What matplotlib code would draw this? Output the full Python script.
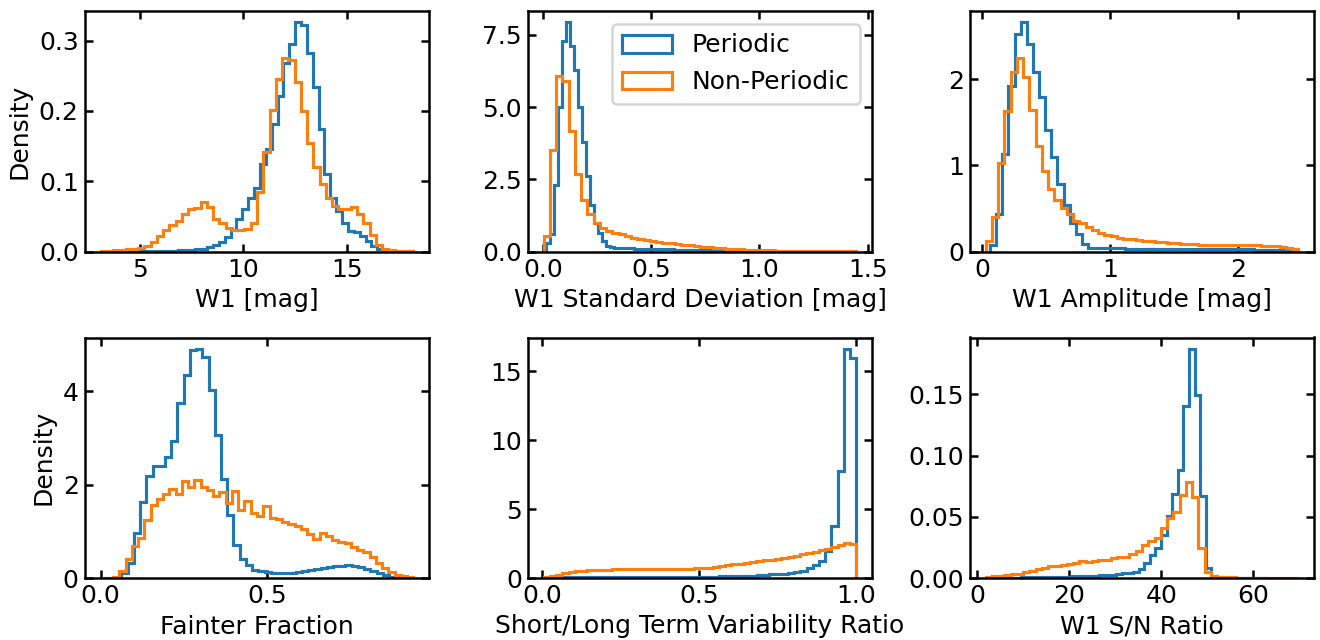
import numpy as np
import matplotlib
matplotlib.use("Agg")
import matplotlib.pyplot as plt
from matplotlib.ticker import MultipleLocator

# ---------------- data (density per bin), bin ranges ----------------
# Panel 1: W1 [mag]
w1_per_range = [3.99, 18.19]
w1_per = [0.0003, 0.0004, 0.0005, 0.0005, 0.0006, 0.0007,
          0.0008, 0.0009, 0.001, 0.0012, 0.0015,
          0.002, 0.0025, 0.003, 0.004, 0.006, 0.009, 0.014, 0.021, 0.030,
          0.046, 0.061, 0.076, 0.091, 0.125, 0.146, 0.182, 0.221, 0.268, 0.296,
          0.326, 0.322, 0.283, 0.234, 0.174, 0.110, 0.076, 0.058, 0.041, 0.029,
          0.028, 0.022, 0.015, 0.008, 0.003,
          0.002, 0.001, 0.001, 0.0005, 0.0005]
w1_non_range = [3.10, 18.23]
w1_non = [0.001, 0.001, 0.002, 0.002, 0.003, 0.004,
          0.005, 0.008, 0.013, 0.022, 0.030, 0.038, 0.044, 0.053, 0.060, 0.062,
          0.071, 0.064, 0.046, 0.040, 0.034,
          0.031, 0.030, 0.032, 0.041, 0.084, 0.141, 0.202, 0.246, 0.275, 0.272,
          0.241, 0.200, 0.155, 0.120, 0.096, 0.076, 0.065, 0.060, 0.060, 0.063,
          0.053, 0.041, 0.023, 0.009, 0.004, 0.002, 0.001, 0.001, 0.0005]

# Panel 2: W1 standard deviation [mag]
std_per_range = [0.014, 0.939]
std_per = [0.3, 0.6, 2.3, 5.0, 7.3, 7.93, 7.1, 6.3, 5.0, 3.8, 2.6, 1.6, 1.0, 0.65,
           0.37, 0.2, 0.15, 0.13,
           0.12, 0.12, 0.11, 0.11, 0.10, 0.10, 0.09, 0.09, 0.08, 0.08, 0.08, 0.07,
           0.07, 0.07, 0.06, 0.06, 0.06, 0.05, 0.05, 0.05, 0.04, 0.04, 0.04, 0.03,
           0.03, 0.03, 0.02, 0.02, 0.02, 0.01, 0.01, 0.01]
std_non_range = [0.003, 1.448]
std_non = [0.54, 3.5, 6.06, 5.9, 4.16, 2.69, 1.79, 1.30, 0.97, 0.83,
           0.72, 0.65, 0.59, 0.53, 0.47, 0.42, 0.39, 0.35, 0.32, 0.30,
           0.28, 0.26, 0.24, 0.22, 0.19, 0.17, 0.15, 0.13, 0.12, 0.10,
           0.09, 0.07, 0.06, 0.05, 0.045, 0.04, 0.035, 0.03, 0.025, 0.02,
           0.02, 0.015, 0.015, 0.01, 0.01, 0.01, 0.008, 0.006, 0.005, 0.004]

# Panel 3: W1 amplitude [mag]
amp_per_range = [0.06, 2.46]
amp_per = [0.08, 0.44, 1.13, 1.92, 2.53, 2.66, 2.41, 2.09, 1.79, 1.41, 1.10, 0.78,
           0.54, 0.33, 0.20, 0.085, 0.045,
           0.04, 0.04, 0.035, 0.035, 0.035, 0.03, 0.03, 0.03, 0.03, 0.03, 0.03,
           0.03, 0.03, 0.03, 0.03, 0.03, 0.03, 0.03, 0.028, 0.028, 0.026, 0.026,
           0.025, 0.025, 0.024, 0.024, 0.022, 0.022, 0.02, 0.02, 0.018, 0.015, 0.012]
amp_non_range = [0.025, 2.475]
amp_non = [0.12, 0.40, 1.03, 1.63, 2.09, 2.25, 2.03, 1.64, 1.23, 0.93, 0.73, 0.60,
           0.50, 0.43, 0.36, 0.33, 0.29, 0.25, 0.22, 0.19, 0.18, 0.16, 0.15, 0.14,
           0.13, 0.124, 0.117, 0.11, 0.105, 0.10, 0.095, 0.09, 0.087, 0.083, 0.08,
           0.078, 0.076, 0.075, 0.074, 0.074, 0.073, 0.073, 0.072, 0.07, 0.068,
           0.065, 0.06, 0.055, 0.045, 0.03]

# Panel 4: fainter fraction
fain_per_range = [0.0626, 0.923]
fain_per = [0.11, 0.32, 0.96, 1.62, 2.18, 2.41, 2.41, 2.59, 2.93, 3.75, 4.36, 4.89,
            4.91, 4.73, 4.04, 3.07, 2.13, 1.36, 0.70, 0.41, 0.27, 0.18, 0.14, 0.12,
            0.11, 0.10, 0.10, 0.11, 0.13, 0.15, 0.17, 0.19, 0.21, 0.23, 0.25, 0.26,
            0.27, 0.26, 0.24, 0.20, 0.15, 0.10, 0.06, 0.03, 0.015, 0.005]
fain_non_range = [0.0, 0.94]
fain_non = [0.01, 0.01, 0.03, 0.16, 0.41, 0.68, 0.86, 1.25, 1.56, 1.69, 1.81, 1.91,
            1.80, 2.09, 1.95, 2.10, 1.96, 1.88, 1.75, 1.84, 1.61, 1.86, 1.46, 1.64,
            1.39, 1.32, 1.54, 1.29, 1.26, 1.21, 1.16, 1.11, 1.05, 0.95, 0.84, 0.96,
            0.89, 0.81, 0.78, 0.74, 0.66, 0.61, 0.55, 0.46, 0.32, 0.21, 0.12, 0.07,
            0.04, 0.02]

# Panel 5: short/long term variability ratio
var_per_range = [0.01, 1.0]
var_per = [0.03, 0.04, 0.045, 0.05, 0.05, 0.055, 0.055, 0.06, 0.06, 0.06,
           0.06, 0.06, 0.06, 0.06, 0.06, 0.06, 0.06, 0.06, 0.06, 0.065,
           0.065, 0.07, 0.07, 0.075, 0.08,
           0.085, 0.09, 0.10, 0.11, 0.12, 0.13, 0.14, 0.16, 0.18, 0.20, 0.23, 0.26,
           0.29, 0.32, 0.36, 0.41, 0.53, 0.72, 0.97, 1.26, 1.98, 3.74, 7.78, 16.6, 15.94]
var_non_range = [0.005, 1.0]
var_non = [0.05, 0.12, 0.20, 0.33, 0.42, 0.48, 0.52, 0.55, 0.57, 0.59, 0.61, 0.63,
           0.65, 0.66, 0.67, 0.68, 0.68, 0.68, 0.67, 0.67, 0.66, 0.66, 0.66, 0.67,
           0.69, 0.72, 0.76, 0.81, 0.86, 0.92, 0.98, 1.04, 1.10, 1.16, 1.22, 1.28,
           1.34, 1.40, 1.47, 1.54, 1.61, 1.72, 1.80, 1.90, 2.00, 2.12, 2.25, 2.42,
           2.54, 2.46]

# Panel 6: W1 S/N ratio
snr_per_range = [2.08, 63.08]
snr_per = [0.0002, 0.0002, 0.0003, 0.0003, 0.0004, 0.0004, 0.0005, 0.0005, 0.0006,
           0.0007, 0.0008, 0.0009, 0.001, 0.0011, 0.0012, 0.0013, 0.0014, 0.0016,
           0.0018, 0.002, 0.0022, 0.0025, 0.0028, 0.0032, 0.0037, 0.0043,
           0.0049, 0.0073, 0.0122, 0.0185, 0.0245, 0.0353, 0.0503, 0.0685, 0.0883,
           0.1405, 0.187, 0.149, 0.0666, 0.008,
           0.002, 0.0008, 0.0004, 0.0003, 0.0002, 0.0002, 0.0001, 0.0001, 0.0001, 0.0001]
snr_non_range = [1.78, 69.78]
snr_non = [0.001, 0.0015, 0.002, 0.0025, 0.003, 0.0035, 0.0045, 0.006, 0.0075,
           0.0085, 0.0095, 0.010, 0.011, 0.0115, 0.0125, 0.0135, 0.013, 0.014,
           0.015, 0.015, 0.016, 0.017, 0.017,
           0.0195, 0.0223, 0.0266, 0.0304, 0.0326, 0.0408, 0.0489, 0.0538, 0.0674,
           0.0783, 0.0658, 0.0245, 0.0045, 0.0015,
           0.0008, 0.0006, 0.0005, 0.0004, 0.0003, 0.0003, 0.0002, 0.0002, 0.0002,
           0.0001, 0.0001, 0.0001, 0.0001]

labels = ["Periodic", "Non-Periodic"]
xlabels = ["W1 [mag]", "W1 Standard Deviation [mag]", "W1 Amplitude [mag]",
           "Fainter Fraction", "Short/Long Term Variability Ratio", "W1 S/N Ratio"]

panels = [
    ((w1_per, w1_per_range), (w1_non, w1_non_range), 5, 0.1),
    ((std_per, std_per_range), (std_non, std_non_range), 0.5, 2.5),
    ((amp_per, amp_per_range), (amp_non, amp_non_range), 1, 1),
    ((fain_per, fain_per_range), (fain_non, fain_non_range), 0.5, 2),
    ((var_per, var_per_range), (var_non, var_non_range), 0.5, 5),
    ((snr_per, snr_per_range), (snr_non, snr_non_range), 20, 0.05),
]

# ---------------- figure ----------------
W, H, DPI = 1320, 640, 180
fig = plt.figure(figsize=(W / DPI, H / DPI), dpi=DPI)

col_left = [85, 528, 970]
row_top = [11, 337.5]
aw, ah = 344, 240.5

colors = ["C0", "C1"]
for i, (per, non, xstep, ystep) in enumerate(panels):
    r, c = divmod(i, 3)
    ax = fig.add_axes([col_left[c] / W, 1 - (row_top[r] + ah) / H, aw / W, ah / H])
    for (vals, rng), col, lab in zip([per, non], colors, labels):
        vals = np.asarray(vals, dtype=float)
        edges = np.linspace(rng[0], rng[1], len(vals) + 1)
        centers = 0.5 * (edges[:-1] + edges[1:])
        ax.hist(centers, bins=edges, weights=vals, histtype="step",
                color=col, label=lab, linewidth=1.25)
    ax.xaxis.set_major_locator(MultipleLocator(xstep))
    ax.yaxis.set_major_locator(MultipleLocator(ystep))
    ax.tick_params(which="both", direction="in", top=True, right=True,
                   width=1.0, length=3.3, pad=2.5)
    for sp in ax.spines.values():
        sp.set_linewidth(1.0)
    ax.set_xlabel(xlabels[i], labelpad=2.5)
    if c == 0:
        ax.set_ylabel("Density", labelpad=3)
    if i == 1:
        ax.legend(loc="upper right")

fig.savefig("out.png", dpi=DPI)
